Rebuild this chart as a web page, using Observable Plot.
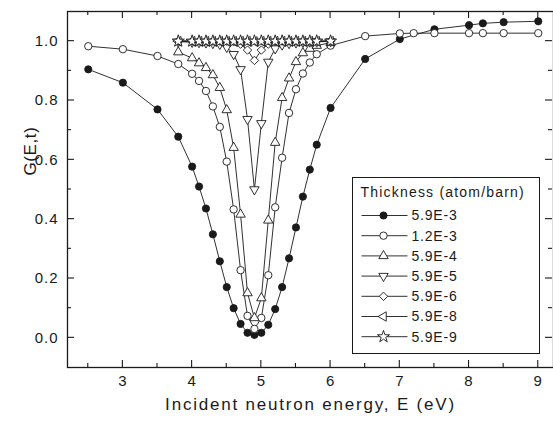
<!DOCTYPE html>
<html><head><meta charset="utf-8">
<script src="https://cdn.jsdelivr.net/npm/d3@7"></script>
<script src="https://cdn.jsdelivr.net/npm/@observablehq/plot@0.6"></script>
<style>html,body{margin:0;padding:0;background:#fff;overflow:hidden}#chart svg{display:block}</style>
</head><body><div id="chart"></div>
<script>
// ---- data ----
const seriesNames = ["5.9E-3", "1.2E-3", "5.9E-4", "5.9E-5", "5.9E-6", "5.9E-8", "5.9E-9"];

const energyThick = [2.5, 3.0, 3.5, 3.8, 4.0, 4.1, 4.2, 4.3, 4.4, 4.5, 4.6, 4.7, 4.8, 4.9, 5.0, 5.1, 5.2, 5.3, 5.4, 5.5, 5.6, 5.7, 5.8, 6.0, 6.5, 7.0, 7.5, 8.0, 8.2, 8.5, 9.0];
const energyOpen = [2.5, 3.0, 3.5, 3.8, 4.0, 4.1, 4.2, 4.3, 4.4, 4.5, 4.6, 4.7, 4.8, 4.9, 5.0, 5.1, 5.2, 5.3, 5.4, 5.5, 5.6, 5.7, 5.8, 6.0, 6.5, 7.0, 7.2, 7.5, 8.0, 8.2, 8.5, 9.0];
const energyFine = [3.8, 4.0, 4.1, 4.2, 4.3, 4.4, 4.5, 4.6, 4.7, 4.8, 4.9, 5.0, 5.1, 5.2, 5.3, 5.4, 5.5, 5.6, 5.7, 5.8, 6.0];

const g59e3 = [0.905, 0.86, 0.77, 0.678, 0.577, 0.51, 0.436, 0.349, 0.258, 0.171, 0.10, 0.047, 0.017, 0.01, 0.017, 0.044, 0.097, 0.171, 0.268, 0.372, 0.476, 0.567, 0.651, 0.775, 0.94, 1.007, 1.04, 1.054, 1.06, 1.064, 1.067];
const g12e3 = [0.983, 0.973, 0.95, 0.923, 0.89, 0.866, 0.832, 0.78, 0.711, 0.594, 0.433, 0.228, 0.074, 0.03, 0.067, 0.211, 0.44, 0.607, 0.758, 0.838, 0.891, 0.928, 0.956, 0.985, 1.017, 1.026, 1.027, 1.027, 1.027, 1.027, 1.027, 1.027];
const g59e4 = [0.963, 0.943, 0.926, 0.91, 0.886, 0.843, 0.768, 0.641, 0.416, 0.151, 0.067, 0.134, 0.396, 0.658, 0.809, 0.875, 0.93, 0.96, 0.975, 0.985, 0.995];
const g59e5 = [0.998, 0.997, 0.996, 0.995, 0.993, 0.99, 0.98, 0.956, 0.905, 0.737, 0.5, 0.723, 0.93, 0.975, 0.988, 0.993, 0.995, 0.997, 0.998, 0.998, 0.999];
const g59e6 = [1.0, 1.0, 1.0, 1.0, 1.0, 1.0, 1.0, 0.998, 0.99, 0.97, 0.935, 0.97, 0.99, 0.998, 1.0, 1.0, 1.0, 1.0, 1.0, 1.0, 1.0];
const g59e8 = [1.0, 1.0, 1.0, 1.0, 1.0, 1.0, 1.0, 1.0, 1.0, 1.0, 0.999, 1.0, 1.0, 1.0, 1.0, 1.0, 1.0, 1.0, 1.0, 1.0, 1.0];
const g59e9 = [1.0, 1.0, 1.0, 1.0, 1.0, 1.0, 1.0, 1.0, 1.0, 1.0, 1.0, 1.0, 1.0, 1.0, 1.0, 1.0, 1.0, 1.0, 1.0, 1.0, 1.0];

const xMajor = [3, 4, 5, 6, 7, 8, 9];
const xMinor = [2.5, 3.5, 4.5, 5.5, 6.5, 7.5, 8.5];
const yMajor = [0.0, 0.2, 0.4, 0.6, 0.8, 1.0];
const yMinor = [0.1, 0.3, 0.5, 0.7, 0.9];

const xTitle = "Incident neutron energy, E (eV)";
const yTitle = "G(E,t)";
const legendTitle = "Thickness (atom/barn)";

// ---- styles ----
const ink = "#1a1a1a";
const FONT = "'Liberation Sans', Arial, sans-serif";
const styles = [
  {symbol: "circle", d3sym: d3.symbolCircle, rotate: 0, fill: ink, r: 3.6},
  {symbol: "circle", d3sym: d3.symbolCircle, rotate: 0, fill: "white", r: 3.7},
  {symbol: "triangle", d3sym: d3.symbolTriangle, rotate: 0, fill: "white", r: 3.5},
  {symbol: "triangle", d3sym: d3.symbolTriangle, rotate: 180, fill: "white", r: 3.5},
  {symbol: "diamond2", d3sym: d3.symbolDiamond2, rotate: 0, fill: "white", r: 3.8},
  {symbol: "triangle", d3sym: d3.symbolTriangle, rotate: -90, fill: "white", r: 3.5},
  {symbol: "star", d3sym: d3.symbolStar, rotate: 0, fill: "white", r: 3.8}
];
const seriesX = [energyThick, energyOpen, energyFine, energyFine, energyFine, energyFine, energyFine];
const seriesY = [g59e3, g12e3, g59e4, g59e5, g59e6, g59e8, g59e9];

const series = seriesNames.map((name, i) => ({
  name, ...styles[i],
  points: seriesX[i].map((e, j) => ({E: e, G: seriesY[i][j]}))
}));

const dataMarks = [];
for (const s of series) {
  dataMarks.push(Plot.line(s.points, {x: "E", y: "G", stroke: ink, strokeWidth: 0.9}));
  dataMarks.push(Plot.dot(s.points, {x: "E", y: "G", symbol: s.symbol, r: s.r, fill: s.fill, stroke: ink, strokeWidth: 0.9, rotate: s.rotate}));
}

const W = 553, H = 422;
const M = {left: 67, right: 0, top: 11, bottom: 55};
const MAJ = 7, MIN = 4;

const chart = Plot.plot({
  width: W, height: H,
  marginLeft: M.left, marginRight: M.right, marginTop: M.top, marginBottom: M.bottom,
  style: {fontFamily: FONT, background: "white", color: ink},
  x: {domain: [2.2, 9.22]},
  y: {domain: [-0.1, 1.1]},
  marks: [
    Plot.axisX(xMajor, {anchor: "bottom", tickSize: 0, tickPadding: 8, fontSize: 15, label: null, tickFormat: d => String(d)}),
    Plot.axisY(yMajor, {anchor: "left", tickSize: 0, tickPadding: 9, fontSize: 15, label: null, tickFormat: d => d.toFixed(1)}),
    Plot.text([xTitle], {frameAnchor: "bottom", dy: 42, text: d => d, fontSize: 17, fill: ink}),
    Plot.text([yTitle], {frameAnchor: "left", dx: -37, dy: -14, rotate: -90, text: d => d, fontSize: 17, fill: ink}),
    ...dataMarks,
    Plot.frame({stroke: ink, strokeWidth: 1.3})
  ]
});
document.getElementById("chart").appendChild(chart);

const svg = d3.select(chart);
const sx = chart.scale("x"), sy = chart.scale("y");
const x0 = M.left, x1 = W - M.right, y0 = M.top, y1 = H - M.bottom;

// inward ticks on all four sides, placed through Plot's scales
const tg = svg.append("g").attr("stroke", ink).attr("stroke-width", 1.1);
[[xMajor, MAJ], [xMinor, MIN]].forEach(([vals, len]) => vals.forEach(v => {
  const px = sx.apply(v);
  tg.append("line").attr("x1", px).attr("x2", px).attr("y1", y1).attr("y2", y1 - len);
  tg.append("line").attr("x1", px).attr("x2", px).attr("y1", y0).attr("y2", y0 + len);
}));
[[yMajor, MAJ], [yMinor, MIN]].forEach(([vals, len]) => vals.forEach(v => {
  const py = sy.apply(v);
  tg.append("line").attr("x1", x0).attr("x2", x0 + len).attr("y1", py).attr("y2", py);
  tg.append("line").attr("x1", x1 - 1).attr("x2", x1 - 1 - len).attr("y1", py).attr("y2", py);
}));

// the original's lettering is slightly wide-set
svg.selectAll("g[aria-label='x-axis tick label'] text").style("letter-spacing", "1px");
svg.selectAll("g[aria-label='y-axis tick label'] text").style("letter-spacing", "1px");
svg.selectAll("text").filter(function() { return this.textContent === xTitle; }).style("letter-spacing", "1.8px");
svg.selectAll("text").filter(function() { return this.textContent === yTitle; }).style("letter-spacing", "0.6px");

// ---- legend (inside the SVG) ----
const lg = svg.append("g").attr("font-family", FONT).attr("fill", ink).attr("text-anchor", "start");
const box = {x: 352.5, y: 177.5, w: 187, h: 176};
lg.append("rect").attr("x", box.x).attr("y", box.y).attr("width", box.w).attr("height", box.h)
  .attr("fill", "white").attr("stroke", ink).attr("stroke-width", 1);
lg.append("text").attr("x", box.x + 8).attr("y", box.y + 15).attr("dy", "0.35em")
  .attr("font-size", 14).style("letter-spacing", "1.2px").text(legendTitle);
series.forEach((s, i) => {
  const cy = box.y + 38 + i * 20.2;
  const row = lg.append("g");
  row.append("line").attr("x1", box.x + 9).attr("x2", box.x + 55).attr("y1", cy).attr("y2", cy)
    .attr("stroke", ink).attr("stroke-width", 0.9);
  row.append("path").attr("d", d3.symbol(s.d3sym, Math.PI * s.r * s.r)())
    .attr("transform", `translate(${box.x + 31},${cy}) rotate(${s.rotate})`)
    .attr("fill", s.fill).attr("stroke", ink).attr("stroke-width", 0.9);
  row.append("text").attr("x", box.x + 59).attr("y", cy).attr("dy", "0.35em")
    .attr("font-size", 14).style("letter-spacing", "0.8px").text(s.name);
});
</script></body></html>
